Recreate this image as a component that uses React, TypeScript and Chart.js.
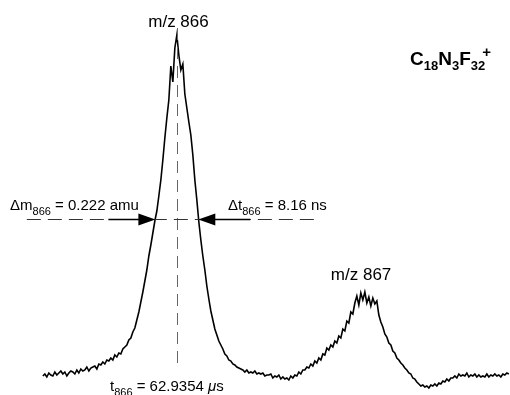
import React, { useEffect, useRef } from "react";
import { Chart, registerables } from "chart.js";

Chart.register(...registerables);

// Time-of-flight histogram: bin width and time of first bin (ns, relative to t866)
const BIN_NS = 0.38;
const FIRST_BIN_NS = -25.46;

// Ion counts per bin (arbitrary units)
const COUNTS: number[] = [
  24, 26, 23, 27, 25, 24, 28, 25, 27, 29,
  26, 28, 24, 27, 29, 28, 26, 30, 27, 31,
  29, 30, 33, 29, 32, 33, 34, 31, 36, 35,
  38, 36, 40, 39, 42, 40, 45, 43, 47, 46,
  51, 53, 55, 60, 62, 68, 72, 80, 88, 98,
  108, 119, 130, 144, 155, 167, 179, 189, 204, 220,
  240, 262, 282, 300, 334, 318, 352, 365, 345, 330,
  336, 306, 292, 278, 265, 245, 220, 200, 178, 160,
  144, 130, 114, 101, 89, 80, 71, 65, 59, 55,
  51, 46, 44, 40, 39, 36, 35, 33, 32, 31,
  30, 28, 30, 27, 28, 27, 29, 26, 27, 26,
  27, 24, 25, 25, 26, 22, 24, 23, 25, 21,
  23, 21, 22, 20, 24, 22, 25, 24, 28, 26,
  30, 30, 33, 32, 36, 34, 39, 37, 42, 40,
  46, 45, 52, 50, 55, 53, 59, 57, 64, 62,
  71, 69, 79, 77, 88, 86, 97, 104, 95, 107,
  100, 108, 97, 103, 94, 102, 96, 99, 85, 78,
  73, 66, 63, 57, 55, 49, 47, 42, 40, 37,
  35, 32, 30, 27, 26, 22, 21, 18, 16, 14,
  15, 13, 14, 12, 15, 14, 16, 14, 17, 16,
  19, 18, 21, 19, 22, 22, 24, 22, 26, 24,
  25, 24, 27, 23, 25, 24, 26, 23, 25, 23,
  24, 23, 26, 23, 25, 24, 26, 24, 25, 23,
  26, 25, 27, 26,
];

// Annotation values
const T866_US = "62.9354";
const DT866_NS = 8.16;
const DM866_AMU = "0.222";
const HALF_MAX_COUNTS = 181;
const PEAK_LABELS = ["m/z 866", "m/z 867"];
const PEAK867_NS = 35.0;

// Axis ranges (ns, counts)
const X_MIN = -33.6;
const X_MAX = 63.3;
const Y_MIN = 5;
const Y_MAX = 400;

const FONT = "'Liberation Sans', Arial, Helvetica, sans-serif";

type Part = { t: string; f: string; dy?: number };

function drawRich(ctx: CanvasRenderingContext2D, parts: Part[], x: number, y: number, align: "left" | "center" = "left") {
  let w = 0;
  for (const p of parts) {
    ctx.font = p.f;
    w += ctx.measureText(p.t).width;
  }
  let cx = align === "center" ? x - w / 2 : x;
  ctx.textAlign = "left";
  ctx.textBaseline = "alphabetic";
  for (const p of parts) {
    ctx.font = p.f;
    ctx.fillText(p.t, cx, y + (p.dy || 0));
    cx += ctx.measureText(p.t).width;
  }
}

const annotations = {
  id: "annotations",
  afterDatasetsDraw(chart: any) {
    const { ctx, scales } = chart;
    const x = scales.x;
    const y = scales.y;
    ctx.save();

    // vertical dashed line at t866
    const x0 = Math.round(x.getPixelForValue(0)) + 0.5;
    ctx.strokeStyle = "#666";
    ctx.lineWidth = 1;
    ctx.setLineDash([12, 7]);
    ctx.beginPath();
    ctx.moveTo(x0, y.getPixelForValue(372));
    ctx.lineTo(x0, y.getPixelForValue(32));
    ctx.stroke();

    // horizontal dashed line at half maximum
    const yh = Math.round(y.getPixelForValue(HALF_MAX_COUNTS)) + 0.5;
    ctx.strokeStyle = "#333";
    ctx.setLineDash([14, 7]);
    ctx.beginPath();
    ctx.moveTo(x.getPixelForValue(-28.5), yh);
    ctx.lineTo(x.getPixelForValue(26.2), yh);
    ctx.stroke();
    ctx.setLineDash([]);

    // arrows
    const xl = x.getPixelForValue(-DT866_NS / 2);
    const xr = x.getPixelForValue(DT866_NS / 2);
    ctx.strokeStyle = "#000";
    ctx.fillStyle = "#000";
    ctx.lineWidth = 1.3;
    ctx.beginPath();
    ctx.moveTo(xl - 47, yh);
    ctx.lineTo(xl - 15, yh);
    ctx.moveTo(xr + 15, yh);
    ctx.lineTo(xr + 52, yh);
    ctx.stroke();
    ctx.beginPath();
    ctx.moveTo(xl, yh);
    ctx.lineTo(xl - 17, yh - 6);
    ctx.lineTo(xl - 17, yh + 6);
    ctx.closePath();
    ctx.fill();
    ctx.beginPath();
    ctx.moveTo(xr, yh);
    ctx.lineTo(xr + 17, yh - 6);
    ctx.lineTo(xr + 17, yh + 6);
    ctx.closePath();
    ctx.fill();

    // texts
    ctx.fillStyle = "#000";
    const f17 = `17px ${FONT}`;
    const f15 = `15px ${FONT}`;
    const s11 = `11px ${FONT}`;
    drawRich(ctx, [{ t: PEAK_LABELS[0], f: f17 }], x0 + 1, 27, "center");
    drawRich(ctx, [{ t: PEAK_LABELS[1], f: f17 }], x.getPixelForValue(PEAK867_NS), 280, "center");

    drawRich(ctx, [
      { t: "Δm", f: f15 },
      { t: "866", f: s11, dy: 5 },
      { t: ` = ${DM866_AMU} amu`, f: f15 },
    ], 10, 210);
    drawRich(ctx, [
      { t: "Δt", f: f15 },
      { t: "866", f: s11, dy: 5 },
      { t: ` = ${DT866_NS.toFixed(2)} ns`, f: f15 },
    ], 228, 210);
    drawRich(ctx, [
      { t: "t", f: f15 },
      { t: "866", f: s11, dy: 5 },
      { t: ` = ${T866_US} `, f: f15 },
      { t: "μ", f: `italic 15px ${FONT}` },
      { t: "s", f: f15 },
    ], 110, 391);

    // ion formula
    const b19 = `bold 19px ${FONT}`;
    const b13 = `bold 13px ${FONT}`;
    drawRich(ctx, [
      { t: "C", f: b19 },
      { t: "18", f: b13, dy: 5 },
      { t: "N", f: b19 },
      { t: "3", f: b13, dy: 5 },
      { t: "F", f: b19 },
      { t: "32", f: b13, dy: 5 },
    ], 410, 65);
    ctx.font = `bold 15px ${FONT}`;
    ctx.textAlign = "right";
    ctx.fillText("+", 491, 57);

    ctx.restore();
  },
};

export default function App() {
  const ref = useRef<HTMLCanvasElement | null>(null);
  useEffect(() => {
    if (!ref.current) return;
    const points = COUNTS.map((c, i) => ({ x: FIRST_BIN_NS + i * BIN_NS, y: c }));
    const chart = new Chart(ref.current, {
      type: "line",
      data: {
        datasets: [
          {
            data: points,
            borderColor: "#000",
            borderWidth: 1.6,
            pointRadius: 0,
            tension: 0,
            fill: false,
          },
        ],
      },
      options: {
        animation: false,
        responsive: false,
        events: [],
        layout: { padding: 0 },
        plugins: { legend: { display: false }, tooltip: { enabled: false } },
        scales: {
          x: { type: "linear", min: X_MIN, max: X_MAX, display: false },
          y: { type: "linear", min: Y_MIN, max: Y_MAX, display: false },
        },
      },
      plugins: [annotations],
    });
    return () => chart.destroy();
  }, []);
  return (
    <div style={{ position: "absolute", left: 0, top: 0, width: 510, height: 395, background: "#fff" }}>
      <canvas ref={ref} width={510} height={395} />
    </div>
  );
}
